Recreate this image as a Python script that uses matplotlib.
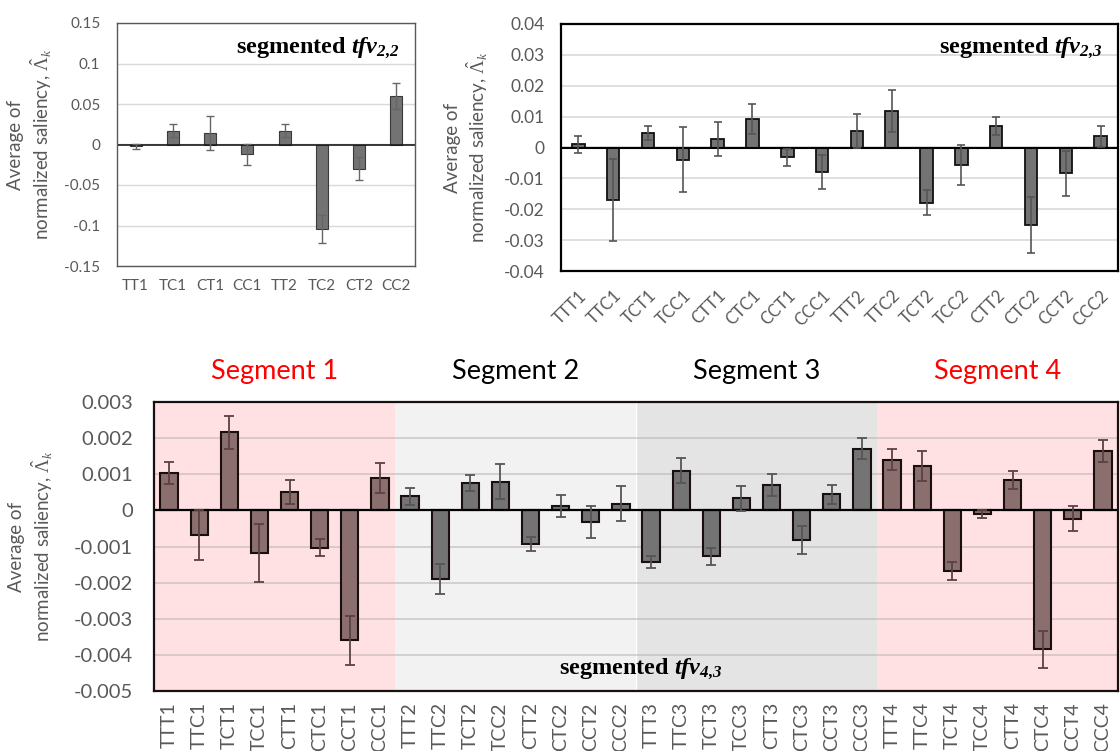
import matplotlib.pyplot as plt
import numpy as np

plt.rcParams['font.family'] = ['Lato', 'DejaVu Sans']
plt.rcParams['mathtext.fontset'] = 'custom'
plt.rcParams['mathtext.rm'] = 'Liberation Serif'
plt.rcParams['mathtext.it'] = 'Liberation Serif:italic'
plt.rcParams['mathtext.bf'] = 'Liberation Serif:bold:italic'

# ---- data: segmented tfv_{2,2}
tl_cats = ['TT1', 'TC1', 'CT1', 'CC1', 'TT2', 'TC2', 'CT2', 'CC2']
tl_vals = [-0.002, 0.017, 0.014, -0.012, 0.017, -0.104, -0.030, 0.060]
tl_errs = [0.003, 0.008, 0.021, 0.013, 0.008, 0.017, 0.014, 0.016]

# ---- data: segmented tfv_{2,3}
tr_cats = ['TTT1', 'TTC1', 'TCT1', 'TCC1', 'CTT1', 'CTC1', 'CCT1', 'CCC1',
           'TTT2', 'TTC2', 'TCT2', 'TCC2', 'CTT2', 'CTC2', 'CCT2', 'CCC2']
tr_vals = [0.001, -0.017, 0.0046, -0.0039, 0.0027, 0.0093, -0.0032, -0.0079,
           0.0053, 0.0119, -0.0179, -0.0057, 0.0069, -0.0252, -0.0084, 0.0037]
tr_errs = [0.0028, 0.0133, 0.0023, 0.0106, 0.0056, 0.0048, 0.0028, 0.0055,
           0.0056, 0.0068, 0.0041, 0.0065, 0.0030, 0.0091, 0.0072, 0.0034]

# ---- data: segmented tfv_{4,3}
b_base = ['TTT', 'TTC', 'TCT', 'TCC', 'CTT', 'CTC', 'CCT', 'CCC']
b_cats = [c + str(s) for s in range(1, 5) for c in b_base]
b_vals = [0.00103, -0.00068, 0.00216, -0.00119, 0.0005, -0.00103, -0.0036, 0.00089,
          0.00039, -0.0019, 0.00076, 0.00079, -0.00093, 0.00013, -0.00032, 0.00019,
          -0.00143, 0.0011, -0.00127, 0.00033, 0.0007, -0.00082, 0.00044, 0.00171,
          0.0014, 0.00123, -0.00169, -0.0001, 0.00084, -0.00385, -0.00023, 0.00164]
b_errs = [0.0003, 0.0007, 0.00045, 0.0008, 0.00033, 0.00024, 0.00068, 0.00041,
          0.00023, 0.00042, 0.00022, 0.00048, 0.0002, 0.0003, 0.00044, 0.00048,
          0.00016, 0.00034, 0.00023, 0.00035, 0.0003, 0.0004, 0.00026, 0.00029,
          0.00029, 0.00042, 0.00025, 0.00012, 0.00026, 0.0005, 0.00035, 0.00031]
seg_names = ['Segment 1', 'Segment 2', 'Segment 3', 'Segment 4']
seg_text_col = ['#ff0000', '#000000', '#000000', '#ff0000']
seg_bg = ['#ffe1e4', '#f2f2f2', '#e4e4e4', '#ffe1e4']
seg_bar = ['#8b6e6e', '#747474', '#747474', '#8b6e6e']
seg_err = ['#5a4242', '#555555', '#555555', '#5a4242']

tick_col = '#595959'
ylab = 'Average of\nnormalized saliency, $\\hat{\\mathit{\\Lambda}}_k$'

W, H = 1120, 751
fig = plt.figure(figsize=(W / 100, H / 100), dpi=100)


def box(l, t, r, b):
    return [l / W, 1 - b / H, (r - l) / W, (b - t) / H]


# ---------------- top left
ax1 = fig.add_axes(box(117, 23, 415, 266))
x = np.arange(len(tl_cats))
ax1.bar(x, tl_vals, width=0.32, color='#737373', edgecolor='#3a3a3a', lw=0.8, zorder=2)
ax1.errorbar(x, tl_vals, yerr=tl_errs, fmt='none', ecolor='#666666', elinewidth=1,
             capsize=3, capthick=1, zorder=3)
ax1.axhline(0, color='#1a1a1a', lw=1.2, zorder=2.5)
ax1.set_xlim(-0.5, len(tl_cats) - 0.5)
ax1.set_ylim(-0.15, 0.15)
ax1.set_yticks(np.arange(-0.15, 0.151, 0.05))
ax1.set_yticklabels(['-0.15', '-0.1', '-0.05', '0', '0.05', '0.1', '0.15'])
ax1.set_xticks(x)
ax1.set_xticklabels(tl_cats)
ax1.grid(axis='y', color='#d9d9d9', lw=1, zorder=0)
ax1.tick_params(length=0, labelsize=11, colors=tick_col)
ax1.tick_params(axis='y', pad=12)
ax1.tick_params(axis='x', pad=9)
for s in ax1.spines.values():
    s.set_color('#595959')
    s.set_linewidth(1)
ax1.set_ylabel(ylab, fontsize=13.5, color=tick_col, va='center', ha='center')
ax1.yaxis.set_label_coords(-0.29, 0.5)
ax1.text(0.95, 0.877, 'segmented $\\mathbf{tfv}_{\\mathbf{2{,}2}}$', transform=ax1.transAxes,
         ha='right', va='baseline', fontsize=17.5, fontweight='bold', family='Liberation Serif')

# ---------------- top right
ax2 = fig.add_axes(box(561, 24, 1118, 271))
x = np.arange(len(tr_cats))
ax2.bar(x, tr_vals, width=0.36, color='#737373', edgecolor='#111111', lw=1.3, zorder=2)
ax2.errorbar(x, tr_vals, yerr=tr_errs, fmt='none', ecolor='#555555', elinewidth=1.2,
             capsize=3, capthick=1.2, zorder=3)
ax2.axhline(0, color='black', lw=1.5, zorder=2.5)
ax2.set_xlim(-0.5, len(tr_cats) - 0.5)
ax2.set_ylim(-0.04, 0.04)
ax2.set_yticks(np.arange(-0.04, 0.0401, 0.01))
ax2.set_yticklabels(['-0.04', '-0.03', '-0.02', '-0.01', '0', '0.01', '0.02', '0.03', '0.04'])
ax2.set_xticks(x)
ax2.set_xticklabels(tr_cats, rotation=45, ha='right', rotation_mode='anchor')
ax2.grid(axis='y', color='#d9d9d9', lw=1.2, zorder=0)
ax2.tick_params(length=0, colors=tick_col)
ax2.tick_params(axis='y', labelsize=12.5, pad=12)
ax2.tick_params(axis='x', labelsize=12, pad=12)
for s in ax2.spines.values():
    s.set_color('black')
    s.set_linewidth(1.6)
ax2.set_ylabel(ylab, fontsize=13.5, color=tick_col, va='center', ha='center')
ax2.yaxis.set_label_coords(-0.169, 0.5)
ax2.text(0.973, 0.883, 'segmented $\\mathbf{tfv}_{\\mathbf{2{,}3}}$', transform=ax2.transAxes,
         ha='right', va='baseline', fontsize=17.5, fontweight='bold', family='Liberation Serif')

# ---------------- bottom
ax3 = fig.add_axes(box(154, 402, 1118, 691))
x = np.arange(len(b_cats))
for i in range(4):
    sl = slice(i * 8, i * 8 + 8)
    ax3.axvspan(i * 8 - 0.5, i * 8 + 7.5, color=seg_bg[i], lw=0, zorder=0)
    ax3.bar(x[sl], b_vals[sl], width=0.57, color=seg_bar[i], edgecolor='#1a0f0f',
            lw=1.5, zorder=2)
    ax3.errorbar(x[sl], b_vals[sl], yerr=b_errs[sl], fmt='none', ecolor=seg_err[i],
                 elinewidth=1.3, capsize=3.5, capthick=1.3, zorder=3)
    ax3.text(i * 8 + 3.5, 1.104, seg_names[i], transform=ax3.get_xaxis_transform(),
             ha='center', va='center', fontsize=19.5, color=seg_text_col[i])
ax3.axvline(15.5, color='white', lw=1, zorder=0.5)
ax3.axhline(0, color='black', lw=1.6, zorder=2.5)
ax3.set_xlim(-0.5, len(b_cats) - 0.5)
ax3.set_ylim(-0.005, 0.003)
ax3.set_yticks(np.arange(-0.005, 0.00301, 0.001))
ax3.set_yticklabels(['-0.005', '-0.004', '-0.003', '-0.002', '-0.001', '0',
                     '0.001', '0.002', '0.003'])
ax3.set_xticks(x)
ax3.set_xticklabels(b_cats, rotation=90)
ax3.grid(axis='y', color='#b8b0b0', alpha=0.6, lw=1.2, zorder=1)
ax3.set_axisbelow(True)
ax3.tick_params(length=0, colors=tick_col)
ax3.tick_params(axis='y', labelsize=14.5, pad=15)
ax3.tick_params(axis='x', labelsize=14, pad=8)
for s in ax3.spines.values():
    s.set_color('#1a0f0f')
    s.set_linewidth(1.6)
ax3.set_ylabel(ylab, fontsize=13.5, color=tick_col, va='center', ha='center')
ax3.yaxis.set_label_coords(-0.127, 0.5)
ax3.text(0.505, 0.062, 'segmented $\\mathbf{tfv}_{\\mathbf{4{,}3}}$', transform=ax3.transAxes,
         ha='center', va='baseline', fontsize=17.5, fontweight='bold', family='Liberation Serif',
         zorder=5)

fig.savefig('out.png', dpi=100)
